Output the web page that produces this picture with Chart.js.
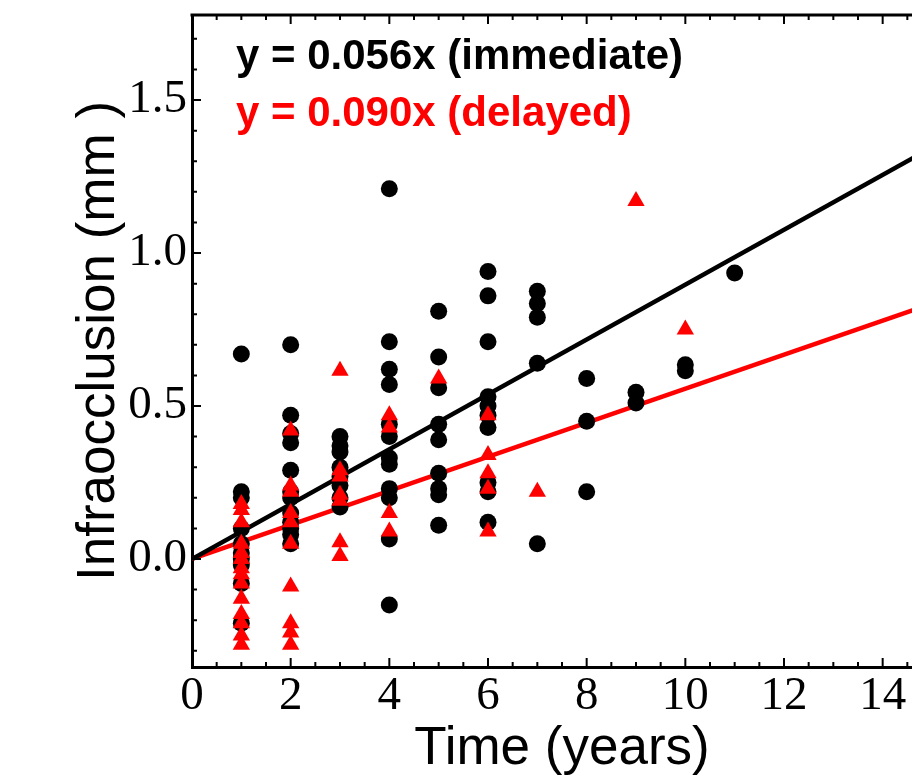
<!DOCTYPE html>
<html>
<head>
    <title>Infraocclusion vs Time</title>
    <script src="https://cdn.jsdelivr.net/npm/chart.js"></script>
    <style>
        html, body { margin: 0; padding: 0; overflow: hidden; background: #fff; }
        canvas { display: block; }
    </style>
</head>
<body>
    <canvas id="infraChart" width="942" height="781"></canvas>

    <script>
        // Immediate group (black circles)
        const immTime = [
            1, 1, 1, 1, 1, 1, 1, 1, 1, 1,
            2, 2, 2, 2, 2, 2, 2, 2, 2, 2, 2, 2,
            3, 3, 3, 3, 3, 3, 3, 3,
            4, 4, 4, 4, 4, 4, 4, 4, 4, 4, 4, 4,
            5, 5, 5, 5, 5, 5, 5, 5, 5,
            6, 6, 6, 6, 6, 6, 6, 6, 6, 6,
            7, 7, 7, 7, 7,
            8, 8, 8,
            9, 9,
            10, 10,
            11
        ];
        const immValue = [
            0.67, 0.22, 0.20, 0.10, 0.05, 0.02, 0.00, -0.02, -0.08, -0.21,
            0.70, 0.47, 0.41, 0.38, 0.29, 0.22, 0.20, 0.15, 0.12, 0.10, 0.08, 0.05,
            0.40, 0.37, 0.35, 0.30, 0.27, 0.24, 0.20, 0.17,
            1.21, 0.71, 0.62, 0.57, 0.44, 0.40, 0.33, 0.31, 0.23, 0.20, 0.065, -0.15,
            0.81, 0.66, 0.56, 0.44, 0.39, 0.28, 0.23, 0.21, 0.11,
            0.94, 0.86, 0.71, 0.53, 0.50, 0.47, 0.43, 0.25, 0.22, 0.12,
            0.875, 0.835, 0.79, 0.64, 0.05,
            0.59, 0.45, 0.22,
            0.545, 0.51,
            0.635, 0.615,
            0.935
        ];

        // Delayed group (red triangles)
        const delTime = [
            1, 1, 1, 1, 1, 1, 1, 1, 1, 1, 1, 1, 1, 1,
            2, 2, 2, 2, 2, 2, 2, 2, 2, 2,
            3, 3, 3, 3, 3, 3, 3,
            4, 4, 4, 4,
            5,
            6, 6, 6, 6, 6,
            7,
            9,
            10
        ];
        const delValue = [
            0.18, 0.16, 0.12, 0.05, 0.02, 0.00, -0.03, -0.05, -0.08, -0.13, -0.18, -0.21, -0.25, -0.28,
            0.42, 0.24, 0.22, 0.15, 0.12, 0.05, -0.09, -0.21, -0.24, -0.28,
            0.615, 0.29, 0.27, 0.21, 0.19, 0.055, 0.01,
            0.47, 0.43, 0.15, 0.09,
            0.59,
            0.47, 0.34, 0.28, 0.23, 0.09,
            0.22,
            1.17,
            0.75
        ];

        // Fitted lines through the origin (end points)
        const fitTime = [0, 15];
        const blackFit = [0, 1.345];
        const redFit = [0, 0.835];

        const legendLines = ['y = 0.056x (immediate)', 'y = 0.090x (delayed)'];
        const legendColors = ['#000000', '#ff0000'];

        const xTicks = [0, 2, 4, 6, 8, 10, 12, 14];
        const yTicks = [0.0, 0.5, 1.0, 1.5];

        const toPoints = (xs, ys) => xs.map((v, i) => ({ x: v, y: ys[i] }));

        // inward ticks, top frame line and the equation labels
        const frameExtras = {
            id: 'frameExtras',
            afterDraw(chart) {
                const { ctx, chartArea: a, scales: { x, y } } = chart;
                ctx.save();
                ctx.strokeStyle = '#000';
                ctx.lineWidth = 3;
                ctx.beginPath();
                ctx.moveTo(a.left - 1.5, a.top);
                ctx.lineTo(a.right, a.top);
                ctx.stroke();

                ctx.lineWidth = 2;
                ctx.beginPath();
                for (let i = 0; i <= 30; i++) {
                    const px = x.getPixelForValue(i * 0.5);
                    const len = i % 4 === 0 ? 9 : 5;
                    ctx.moveTo(px, a.bottom);
                    ctx.lineTo(px, a.bottom - len);
                    ctx.moveTo(px, a.top);
                    ctx.lineTo(px, a.top + len);
                }
                for (let i = -3; i <= 17; i++) {
                    const py = y.getPixelForValue(i * 0.1);
                    const len = i % 5 === 0 ? 9 : 5;
                    ctx.moveTo(a.left, py);
                    ctx.lineTo(a.left + len, py);
                }
                ctx.stroke();

                ctx.font = 'bold 42px "Liberation Sans", Arial, sans-serif';
                ctx.textAlign = 'left';
                ctx.textBaseline = 'alphabetic';
                legendLines.forEach((t, i) => {
                    ctx.fillStyle = legendColors[i];
                    ctx.fillText(t, 236, 69 + i * 57);
                });
                ctx.restore();
            }
        };

        const ctx = document.getElementById('infraChart').getContext('2d');
        new Chart(ctx, {
            type: 'scatter',
            data: {
                datasets: [
                    {
                        label: 'delayed',
                        data: toPoints(delTime, delValue),
                        pointStyle: 'triangle',
                        pointRadius: 10,
                        pointHoverRadius: 10,
                        backgroundColor: '#ff0000',
                        borderWidth: 0,
                        order: 0
                    },
                    {
                        label: 'immediate',
                        data: toPoints(immTime, immValue),
                        pointStyle: 'circle',
                        pointRadius: 8.5,
                        pointHoverRadius: 8.5,
                        backgroundColor: '#000000',
                        borderWidth: 0,
                        order: 1
                    },
                    {
                        label: 'fit black',
                        data: toPoints(fitTime, blackFit),
                        showLine: true,
                        borderColor: '#000000',
                        borderWidth: 4.5,
                        pointRadius: 0,
                        order: 2
                    },
                    {
                        label: 'fit red',
                        data: toPoints(fitTime, redFit),
                        showLine: true,
                        borderColor: '#ff0000',
                        borderWidth: 4.5,
                        pointRadius: 0,
                        order: 3
                    }
                ]
            },
            options: {
                responsive: false,
                animation: false,
                layout: { padding: { top: 15, right: 3, left: 0, bottom: 0 } },
                plugins: {
                    legend: { display: false },
                    tooltip: { enabled: false }
                },
                scales: {
                    x: {
                        type: 'linear',
                        min: 0,
                        max: 15,
                        afterBuildTicks: s => { s.ticks = xTicks.map(v => ({ value: v })); },
                        afterFit: s => { s.height = 114; s.paddingLeft = 0; s.paddingRight = 0; },
                        grid: { display: false, drawTicks: false },
                        border: { display: true, color: '#000', width: 3 },
                        ticks: {
                            color: '#000',
                            padding: 1,
                            maxRotation: 0,
                            font: { family: '"Liberation Serif", "Times New Roman", serif', size: 47 },
                            callback: v => String(v)
                        },
                        title: {
                            display: true,
                            text: 'Time (years)',
                            color: '#000',
                            padding: { top: 0, bottom: 0 },
                            font: { family: '"Liberation Sans", Arial, sans-serif', size: 53, lineHeight: 1.2 }
                        }
                    },
                    y: {
                        type: 'linear',
                        min: -0.353,
                        max: 1.778,
                        afterBuildTicks: s => { s.ticks = yTicks.map(v => ({ value: v })); },
                        afterFit: s => { s.width = 192; s.paddingTop = 0; s.paddingBottom = 0; },
                        grid: { display: false, drawTicks: false },
                        border: { display: true, color: '#000', width: 3 },
                        ticks: {
                            color: '#000',
                            padding: 5,
                            font: { family: '"Liberation Serif", "Times New Roman", serif', size: 47 },
                            callback: v => v.toFixed(1)
                        },
                        title: {
                            display: true,
                            text: 'Infraocclusion (mm )',
                            color: '#000',
                            padding: { top: 68, bottom: 0 },
                            font: { family: '"Liberation Sans", Arial, sans-serif', size: 53, lineHeight: 1.2 }
                        }
                    }
                }
            },
            plugins: [frameExtras]
        });
    </script>
</body>
</html>
